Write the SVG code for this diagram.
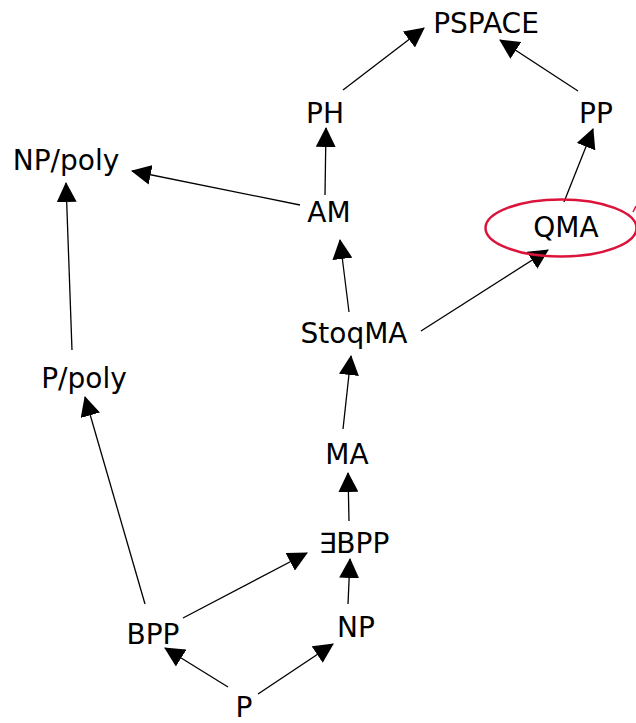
<svg xmlns="http://www.w3.org/2000/svg" width="636" height="723" viewBox="0 0 636 723">
<style>
text{font-family:"DejaVu Sans",sans-serif;font-size:28px;fill:#000;text-anchor:middle}
.e{stroke:#000;stroke-width:1.3;fill:none;marker-end:url(#ah)}
</style>
<defs>
<marker id="ah" markerUnits="userSpaceOnUse" markerWidth="20" markerHeight="20" refX="19" refY="10" orient="auto" viewBox="0 0 20 20">
<path d="M0,0 L20,10 L0,20 z" fill="#000"/>
</marker>
</defs>
<rect width="636" height="723" fill="#fff"/>
<g id="connectors">
<line class="e" x1="343" y1="90" x2="424" y2="28"/>
<line class="e" x1="578" y1="91" x2="500" y2="40"/>
<line class="e" x1="325" y1="195" x2="326" y2="128"/>
<line class="e" x1="564" y1="202" x2="593" y2="129"/>
<line class="e" x1="300" y1="205" x2="132" y2="171"/>
<line class="e" x1="72" y1="350" x2="66" y2="183"/>
<line class="e" x1="349" y1="312" x2="340" y2="240"/>
<line class="e" x1="421" y1="331" x2="548" y2="250"/>
<line class="e" x1="343" y1="429" x2="351" y2="356"/>
<line class="e" x1="349" y1="521" x2="348" y2="473"/>
<line class="e" x1="348" y1="604" x2="350" y2="559"/>
<line class="e" x1="183" y1="618" x2="307" y2="553"/>
<line class="e" x1="145" y1="604" x2="85" y2="397"/>
<line class="e" x1="228" y1="687" x2="165" y2="648"/>
<line class="e" x1="258" y1="694" x2="333" y2="644"/>
</g>
<g id="PSPACE"><text x="486" y="33">PSPACE</text></g>
<g id="PH"><text x="325" y="123">PH</text></g>
<g id="PP"><text x="596" y="123">PP</text></g>
<g id="NPpoly"><text x="66" y="170">NP/poly</text></g>
<g id="AM"><text x="329" y="222">AM</text></g>
<g id="QMA">
<ellipse cx="561" cy="228" rx="75.5" ry="28.5" fill="none" stroke="#dc143c" stroke-width="2.5"/>
<line x1="633" y1="212" x2="636" y2="206" stroke="#dc143c" stroke-width="1.5"/>
<text x="566" y="237">QMA</text>
</g>
<g id="StoqMA"><text x="354" y="343">StoqMA</text></g>
<g id="Ppoly"><text x="84" y="388">P/poly</text></g>
<g id="MA"><text x="347" y="464">MA</text></g>
<g id="EBPP"><text x="354" y="553">∃BPP</text></g>
<g id="BPP"><text x="153" y="644">BPP</text></g>
<g id="NP"><text x="356" y="637">NP</text></g>
<g id="P"><text x="244" y="717">P</text></g>
</svg>
